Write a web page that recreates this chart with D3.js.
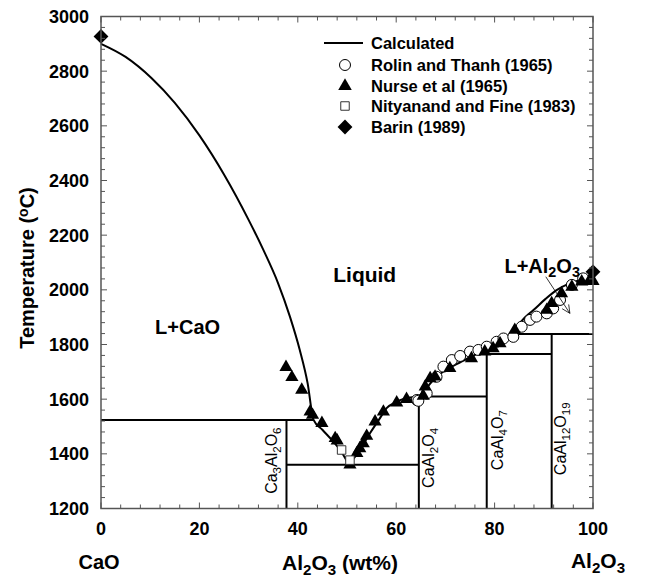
<!DOCTYPE html>
<html><head><meta charset="utf-8">
<script src="https://cdn.jsdelivr.net/npm/d3@7"></script>
<style>body{margin:0;background:#fff} text{font-family:"Liberation Sans",Arial,Helvetica,sans-serif}</style>
</head><body><svg id="c" width="645" height="580"></svg>
<script>
// ---------- data ----------
const xTicks = [0, 20, 40, 60, 80, 100];
const yTicks = [1200, 1400, 1600, 1800, 2000, 2200, 2400, 2600, 2800, 3000];
// calculated liquidus (wt% Al2O3, °C)
const calcLeft = [[0,2900],[5,2852],[10.3,2774],[15,2684],[20,2565],[25,2422],[30,2256],[33,2146],[36,2024],[38.4,1902],[40.4,1780],[42,1658],[43.2,1524],[45,1488],[46.9,1451],[48.6,1414],[50.4,1360]];
const calcRight = [[50.4,1360],[52.6,1414],[54.7,1476],[56.5,1525],[58.1,1568],[60,1590],[62.1,1604],[64.6,1612],[65.9,1634],[67.5,1670],[70,1706],[72.6,1731],[75.5,1758],[78.4,1780],[80.5,1802],[82.5,1826],[84.5,1865],[86.2,1900],[87.9,1926],[90.3,1966],[92.6,1999],[95,2022],[97.4,2036],[100,2054]];
// invariant / compound lines [x1, T1, x2, T2]
const phaseLines = [[0,1524,43.2,1524],[37.7,1200,37.7,1524],[37.7,1360,64.6,1360],[64.6,1200,64.6,1612],[64.6,1610,78.4,1610],[78.4,1200,78.4,1765],[78.4,1765,91.6,1765],[91.6,1200,91.6,1838],[83.2,1838,100,1838]];
// experimental data
const rolinThanh = [[64.2,1597],[64.5,1594],[66.2,1621],[68.2,1682],[69.6,1719],[71.3,1743],[73.0,1758],[75.0,1774],[76.7,1780],[78.4,1792],[80.4,1810],[81.8,1822],[83.8,1828],[85.5,1865],[87.2,1890],[88.5,1902],[90.6,1914],[91.9,1932],[93.3,1963],[95.7,2018],[98.0,2042]];
const nurse = [[37.6,1717],[38.8,1680],[40.8,1634],[42.5,1554],[43.0,1542],[44.9,1512],[47.6,1457],[48.0,1448],[50.6,1360],[52.0,1402],[52.6,1420],[53.3,1438],[54.0,1465],[55.7,1518],[57.4,1554],[60.1,1587],[62.1,1600],[65.5,1612],[65.9,1646],[66.9,1676],[67.9,1682],[70.9,1713],[75.3,1749],[78.0,1774],[79.7,1786],[81.1,1804],[84.1,1853],[90.6,1926],[91.6,1951],[93.6,1987],[95.7,2011],[97.7,2030],[99.2,2032],[100,2032]];
const nityanand = [[48.9,1414],[50.6,1377]];
const barin = [[0,2927],[100,2066]];
const legendLabels = ["Calculated","Rolin and Thanh (1965)","Nurse et al (1965)","Nityanand and Fine (1983)","Barin (1989)"];

// ---------- layout ----------
const svg = d3.select("#c");
const x = d3.scaleLinear().domain([0,100]).range([101,593]);
const y = d3.scaleLinear().domain([1200,3000]).range([508.5,16.5]);

function rich(sel, parts){
  parts.forEach(p=>{
    const t = sel.append("tspan").text(p[0]);
    if(p[1]==="sub"){ t.attr("baseline-shift","-30%").attr("font-size","72%"); }
    if(p[1]==="sup"){ t.attr("baseline-shift","40%").attr("font-size","70%"); }
  });
  return sel;
}

// phase lines
svg.append("g").selectAll("line").data(phaseLines).join("line")
  .attr("x1",d=>x(d[0])).attr("y1",d=>y(d[1])).attr("x2",d=>x(d[2])).attr("y2",d=>y(d[3]))
  .attr("stroke","#000").attr("stroke-width",2);

// calculated curves
const line = d3.line().x(d=>x(d[0])).y(d=>y(d[1])).curve(d3.curveMonotoneX);
[calcLeft, calcRight].forEach(c=>{
  svg.append("path").datum(c).attr("d",line).attr("fill","none").attr("stroke","#000").attr("stroke-width",2);
});

// markers
const sym = (type,size)=>d3.symbol().type(type).size(size)();
svg.append("g").selectAll("path").data(rolinThanh).join("path")
  .attr("d",sym(d3.symbolCircle,95)).attr("transform",d=>`translate(${x(d[0])},${y(d[1])})`)
  .attr("fill","#fff").attr("stroke","#000").attr("stroke-width",1);
svg.append("g").selectAll("path").data(nurse).join("path")
  .attr("d",sym(d3.symbolTriangle,75)).attr("transform",d=>`translate(${x(d[0])},${y(d[1])})`)
  .attr("fill","#000");
svg.append("g").selectAll("path").data(nityanand).join("path")
  .attr("d",sym(d3.symbolSquare,72)).attr("transform",d=>`translate(${x(d[0])},${y(d[1])})`)
  .attr("fill","#fff").attr("stroke","#333").attr("stroke-width",1);
svg.append("g").selectAll("path").data(barin).join("path")
  .attr("d",sym(d3.symbolSquare,110)).attr("transform",d=>`translate(${x(d[0])},${y(d[1])}) rotate(45)`)
  .attr("fill","#000");

// frame and ticks
const frame = svg.append("g").attr("stroke","#555").attr("stroke-width",1.5);
frame.append("rect").attr("x",x(0)).attr("y",y(3000)).attr("width",x(100)-x(0)).attr("height",y(1200)-y(3000)).attr("fill","none");
const xMinor = d3.range(0,101,4), yMinor = d3.range(1200,3001,40);
xMinor.forEach(v=>{
  const L = v%20===0?6:4;
  frame.append("line").attr("x1",x(v)).attr("x2",x(v)).attr("y1",y(1200)).attr("y2",y(1200)-L).attr("stroke-width",1);
  frame.append("line").attr("x1",x(v)).attr("x2",x(v)).attr("y1",y(3000)).attr("y2",y(3000)+L).attr("stroke-width",1);
});
yMinor.forEach(v=>{
  const L = v%200===0?6:4;
  frame.append("line").attr("y1",y(v)).attr("y2",y(v)).attr("x1",x(0)).attr("x2",x(0)+L).attr("stroke-width",1);
  frame.append("line").attr("y1",y(v)).attr("y2",y(v)).attr("x1",x(100)).attr("x2",x(100)-L).attr("stroke-width",1);
});

// tick labels
svg.append("g").selectAll("text").data(xTicks).join("text")
  .attr("x",d=>x(d)).attr("y",535).attr("text-anchor","middle")
  .attr("font-size",18).attr("font-weight","bold").text(d=>d);
svg.append("g").selectAll("text").data(yTicks).join("text")
  .attr("x",89).attr("y",d=>y(d)+6.5).attr("text-anchor","end")
  .attr("font-size",18).attr("font-weight","bold").text(d=>d);

// axis titles
rich(svg.append("text").attr("x",99).attr("y",569).attr("text-anchor","middle").attr("font-size",20).attr("font-weight","bold"),[["CaO"]]);
rich(svg.append("text").attr("x",340).attr("y",570).attr("text-anchor","middle").attr("font-size",21).attr("font-weight","bold"),[["Al"],["2","sub"],["O"],["3","sub"],[" (wt%)"]]);
rich(svg.append("text").attr("x",598).attr("y",568).attr("text-anchor","middle").attr("font-size",21).attr("font-weight","bold"),[["Al"],["2","sub"],["O"],["3","sub"]]);
rich(svg.append("text").attr("transform","translate(34,268) rotate(-90)").attr("text-anchor","middle").attr("font-size",20).attr("font-weight","bold"),[["Temperature ("],["o","sup"],["C)"]]);

// region labels
svg.append("text").attr("x",x(11)).attr("y",y(1840)).attr("font-size",20).attr("font-weight","bold").text("L+CaO");
svg.append("text").attr("x",x(47.2)).attr("y",y(2029)).attr("font-size",21).attr("font-weight","bold").text("Liquid");
rich(svg.append("text").attr("x",x(82)).attr("y",y(2062)).attr("font-size",20).attr("font-weight","bold"),[["L+Al"],["2","sub"],["O"],["3","sub"]]);

// arrow
const ax1=x(90.4), ay1=y(2048), ax2=x(95.3), ay2=y(1914);
svg.append("line").attr("x1",ax1).attr("y1",ay1).attr("x2",ax2).attr("y2",ay2).attr("stroke","#000").attr("stroke-width",0.8);
const ang = Math.atan2(ay2-ay1, ax2-ax1);
[-0.45,0.45].forEach(o=>{
  svg.append("line").attr("x1",ax2).attr("y1",ay2)
    .attr("x2",ax2-9*Math.cos(ang+o)).attr("y2",ay2-9*Math.sin(ang+o))
    .attr("stroke","#000").attr("stroke-width",0.8);
});

// compound labels (rotated)
function vlabel(px, py, parts){
  rich(svg.append("text").attr("transform",`translate(${px},${py}) rotate(-90)`).attr("text-anchor","middle").attr("font-size",16), parts);
}
vlabel(x(37.7)-9, y(1375), [["Ca"],["3","sub"],["Al"],["2","sub"],["O"],["6","sub"]]);
vlabel(x(64.6)+15, y(1385), [["CaAl"],["2","sub"],["O"],["4","sub"]]);
vlabel(x(78.4)+16, y(1450), [["CaAl"],["4","sub"],["O"],["7","sub"]]);
vlabel(x(91.6)+14, y(1455), [["CaAl"],["12","sub"],["O"],["19","sub"]]);

// legend
const lg = svg.append("g");
const ly = [43,65,86,106,127];
lg.append("line").attr("x1",324).attr("x2",363).attr("y1",ly[0]).attr("y2",ly[0]).attr("stroke","#000").attr("stroke-width",2);
lg.append("path").attr("d",sym(d3.symbolCircle,95)).attr("transform",`translate(345,${ly[1]})`).attr("fill","#fff").attr("stroke","#000");
lg.append("path").attr("d",sym(d3.symbolTriangle,80)).attr("transform",`translate(345,${ly[2]})`).attr("fill","#000");
lg.append("path").attr("d",sym(d3.symbolSquare,72)).attr("transform",`translate(345,${ly[3]})`).attr("fill","#fff").attr("stroke","#333");
lg.append("path").attr("d",sym(d3.symbolSquare,110)).attr("transform",`translate(345,${ly[4]}) rotate(45)`).attr("fill","#000");
lg.selectAll("text").data(legendLabels).join("text")
  .attr("x",371).attr("y",(d,i)=>ly[i]+6).attr("font-size",16.5).attr("font-weight","bold").text(d=>d);
</script></body></html>
